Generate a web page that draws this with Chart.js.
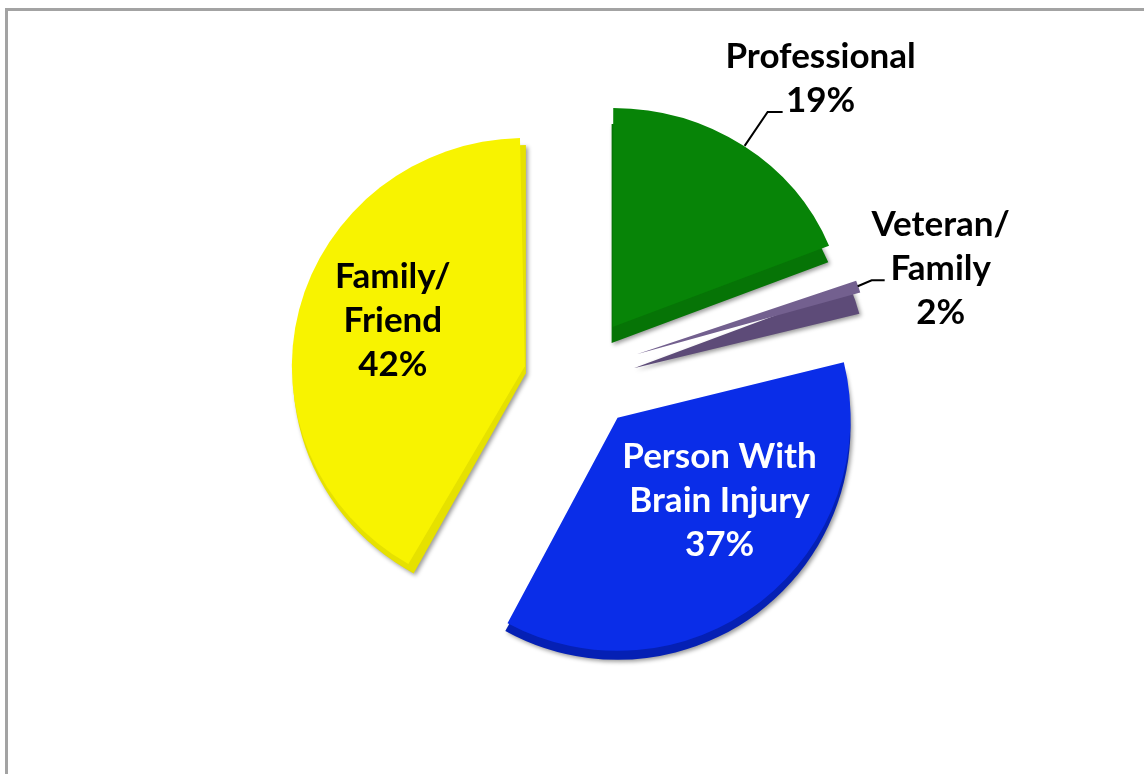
<!DOCTYPE html>
<html lang="en">
<head>
    <meta charset="UTF-8">
    <title>Respondents</title>
    <script src="https://cdn.jsdelivr.net/npm/chart.js@4/dist/chart.umd.min.js"></script>
    <style>
        * { margin: 0; padding: 0; box-sizing: border-box; }
        body { background: #fff; overflow: hidden; }
        .wrap { position: relative; width: 1144px; height: 774px; }
        .frame { position: absolute; left: 5px; top: 8px; width: 1160px; height: 800px; border: 3px solid #a3a3a3; }
        canvas { position: absolute; left: 0; top: 0; }
    </style>
</head>
<body>
<div class="wrap">
    <div class="frame"></div>
    <canvas id="pie" width="1144" height="774"></canvas>
</div>
<script>
// Sample data, slices run clockwise from 12 o'clock
const categories = ['Professional', 'Veteran/Family', 'Person With Brain Injury', 'Family/Friend'];
const values = [19, 2, 37, 42];
const labelLines = [
    ['Professional', '19%'],
    ['Veteran/', 'Family', '2%'],
    ['Person With', 'Brain Injury', '37%'],
    ['Family/', 'Friend', '42%']
];

// Styles
const faceColors = ['#078407', '#73608f', '#0a2de8', '#f8f300'];
const edgeColors = ['#067406', '#5d4b78', '#0520b4', '#e6e100'];
// Chart.js draws a slice at a quarter of its offset option
const sliceOffsets = [218, 230, 232, 236];
// how far the extruded side sticks out under each face
const edgeShift = [[-1, 16], [-3, 14], [0, 9], [1, 7]];
// the original pie is tilted: the left slice sits a little lower, the back is squashed
const tiltShift = [0, 0, 0, 9];
const squash = [0.94, 0.94, 1, 0.98];
const labelColors = ['#000', '#000', '#fff', '#000'];
// label block centre, relative to the tip of its slice
const labelShift = [[208, -248], [304, -86], [102, 83], [-132, -46]];
// leader lines, relative to the label centre
const leaders = [
    [[-76, 67], [-53, 33], [-38, 33]],
    [[-83, 18], [-69, 12], [-56, 12]],
    null,
    null
];
const LINE_GAP = 44;

function sliceTip(arc) {
    const mid = (arc.startAngle + arc.endAngle) / 2;
    const off = arc.options.offset / 4;
    return { x: arc.x + Math.cos(mid) * off, y: arc.y + Math.sin(mid) * off };
}

// Chart.js grows offset slices a bit when it draws them, take that back so all radii match.
// Each slice is then drawn squashed around its own tip
const radiusPlugin = {
    id: 'evenRadius',
    afterDatasetsUpdate(chart) {
        chart.getDatasetMeta(0).data.forEach((arc, i) => {
            const grow = 1 - Math.sin(Math.min(Math.PI, arc.circumference));
            arc.baseRadius = arc.outerRadius;
            arc.outerRadius -= arc.options.offset / 4 * grow;
            arc.y += tiltShift[i];
            const libDraw = arc.draw;
            arc.draw = function(ctx, area) {
                const tip = sliceTip(arc);
                ctx.save();
                ctx.translate(tip.x, tip.y);
                ctx.scale(1, squash[i]);
                ctx.translate(-tip.x, -tip.y);
                libDraw.call(arc, ctx, area);
                ctx.restore();
            };
        });
    }
};

// Thick lower edge and soft shadow under every slice
const bevelPlugin = {
    id: 'bevel',
    beforeDatasetsDraw(chart) {
        const { ctx } = chart;
        chart.getDatasetMeta(0).data.forEach((arc, i) => {
            const tip = sliceTip(arc);
            const ex = tip.x + edgeShift[i][0];
            const ey = tip.y + edgeShift[i][1];
            ctx.save();
            ctx.shadowColor = 'rgba(0,0,0,0.4)';
            ctx.shadowBlur = 4;
            ctx.shadowOffsetX = 2;
            ctx.shadowOffsetY = 2;
            ctx.fillStyle = edgeColors[i];
            ctx.beginPath();
            ctx.moveTo(ex, ey);
            ctx.ellipse(ex, ey, arc.baseRadius, arc.baseRadius * squash[i], 0, arc.startAngle, arc.endAngle);
            ctx.closePath();
            ctx.fill();
            ctx.restore();
        });
    }
};

const labelPlugin = {
    id: 'sliceLabels',
    afterDatasetsDraw(chart) {
        const { ctx } = chart;
        chart.getDatasetMeta(0).data.forEach((arc, i) => {
            const tip = sliceTip(arc);
            const cx = tip.x + labelShift[i][0];
            const cy = tip.y + labelShift[i][1];
            ctx.save();
            if (leaders[i]) {
                ctx.strokeStyle = '#000';
                ctx.lineWidth = 2;
                ctx.beginPath();
                leaders[i].forEach((p, n) => {
                    if (n === 0) ctx.moveTo(cx + p[0], cy + p[1]);
                    else ctx.lineTo(cx + p[0], cy + p[1]);
                });
                ctx.stroke();
            }
            ctx.font = 'bold 35px Lato, sans-serif';
            ctx.textAlign = 'center';
            ctx.textBaseline = 'middle';
            ctx.fillStyle = labelColors[i];
            const lines = labelLines[i];
            lines.forEach((line, n) => {
                ctx.fillText(line, cx, cy + (n - (lines.length - 1) / 2) * LINE_GAP);
            });
            ctx.restore();
        });
    }
};

new Chart(document.getElementById('pie'), {
    type: 'pie',
    data: {
        labels: categories,
        datasets: [{
            data: values,
            backgroundColor: faceColors,
            offset: sliceOffsets,
            borderWidth: 0
        }]
    },
    options: {
        responsive: false,
        animation: false,
        layout: { padding: { left: 20, right: 0, top: 21, bottom: 51 } },
        plugins: {
            legend: { display: false },
            tooltip: { enabled: false }
        }
    },
    plugins: [radiusPlugin, bevelPlugin, labelPlugin]
});
</script>
</body>
</html>
